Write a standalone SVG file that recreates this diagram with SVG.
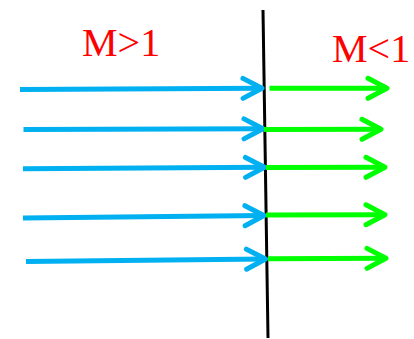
<svg xmlns="http://www.w3.org/2000/svg" width="414" height="339" viewBox="0 0 414 339">
<style>
.b{stroke:#00B0F0;stroke-width:5;fill:none}
.g{stroke:#00FF00;stroke-width:5;fill:none}
.lbl{font-family:"Liberation Serif",serif;font-size:40px;fill:#FF0000}
</style>
<defs>
<marker id="hb" markerUnits="userSpaceOnUse" viewBox="-24 -14 28 28" markerWidth="28" markerHeight="28" refX="0" refY="0" orient="auto" overflow="visible">
<path d="M-19,-10 L0,0 L-19,10" fill="none" stroke="#00B0F0" stroke-width="5" stroke-linecap="round" stroke-linejoin="round"/>
</marker>
<marker id="hg" markerUnits="userSpaceOnUse" viewBox="-24 -14 28 28" markerWidth="28" markerHeight="28" refX="0" refY="0" orient="auto" overflow="visible">
<path d="M-19,-10 L0,0 L-19,10" fill="none" stroke="#00FF00" stroke-width="5" stroke-linecap="round" stroke-linejoin="round"/>
</marker>
</defs>
<g id="labels">
<text class="lbl" x="82" y="56">M&gt;1</text>
<text class="lbl" x="332" y="62">M&lt;1</text>
</g>
<g id="shock">
<line x1="263" y1="10" x2="268" y2="338" stroke="#000" stroke-width="3"/>
</g>
<g id="connectors">
<line class="b" x1="20" y1="89.5" x2="262" y2="88.3" marker-end="url(#hb)"/>
<line class="b" x1="23.5" y1="129.5" x2="263" y2="128.8" marker-end="url(#hb)"/>
<line class="b" x1="23" y1="168.8" x2="264.5" y2="167.3" marker-end="url(#hb)"/>
<line class="b" x1="23" y1="218" x2="264" y2="215.5" marker-end="url(#hb)"/>
<line class="b" x1="26" y1="261.5" x2="265.5" y2="259" marker-end="url(#hb)"/>
<line class="g" x1="269.5" y1="88.3" x2="387" y2="88.3" marker-end="url(#hg)"/>
<line class="g" x1="264" y1="129.5" x2="381" y2="129.3" marker-end="url(#hg)"/>
<line class="g" x1="266" y1="167.5" x2="385" y2="167.3" marker-end="url(#hg)"/>
<line class="g" x1="266" y1="215" x2="385" y2="214.7" marker-end="url(#hg)"/>
<line class="g" x1="268" y1="258.8" x2="386" y2="258.3" marker-end="url(#hg)"/>
</g>
</svg>
